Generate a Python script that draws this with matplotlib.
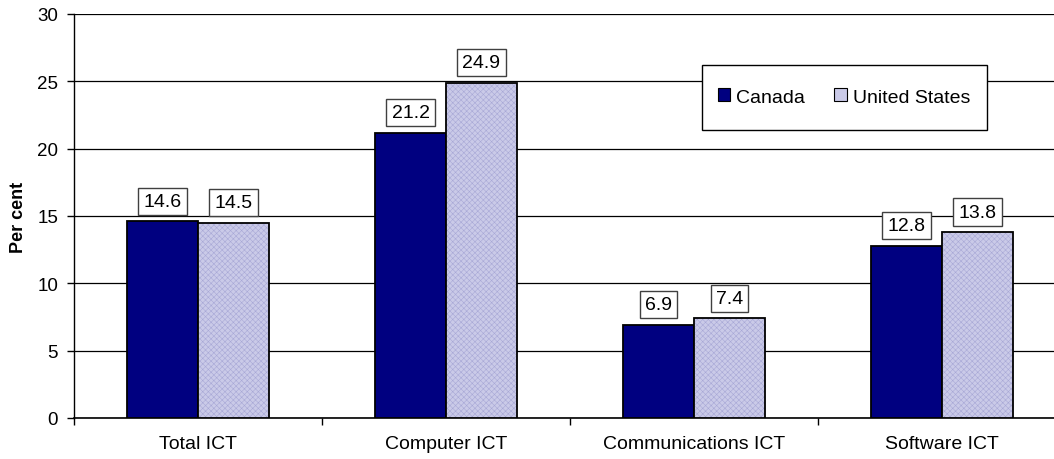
import matplotlib
matplotlib.use('Agg')
import numpy as np
import matplotlib.pyplot as plt
from matplotlib.patches import Patch, Rectangle

categories = ['Total ICT', 'Computer ICT', 'Communications ICT', 'Software ICT']
canada = [14.6, 21.2, 6.9, 12.8]
united_states = [14.5, 24.9, 7.4, 13.8]
y_ticks = [0, 5, 10, 15, 20, 25, 30]

CANADA_COLOR = '#000080'
US_COLOR = '#cacae8'
US_HATCH = '#a8a8d6'

plt.rcParams['font.family'] = ['Liberation Sans', 'DejaVu Sans']
plt.rcParams['hatch.linewidth'] = 0.4

fig = plt.figure(figsize=(10.54, 4.6), dpi=100)
ax = fig.add_axes([74 / 1054, 41 / 460, 992 / 1054, 404 / 460])

x = np.arange(len(categories))
w = 0.286

ax.bar(x - w / 2, canada, w, color=CANADA_COLOR, edgecolor='black',
       linewidth=1.3, zorder=3)
# hatched fill first, then a black outline on top
ax.bar(x + w / 2, united_states, w, color=US_COLOR, hatch='xxxxxx',
       edgecolor=US_HATCH, linewidth=0, zorder=3)
ax.bar(x + w / 2, united_states, w, fill=False, edgecolor='black',
       linewidth=1.3, zorder=4)

box = dict(boxstyle='square,pad=0.26', facecolor='white',
           edgecolor='#404040', linewidth=1)
for xi, v in zip(x - w / 2, canada):
    ax.annotate(f'{v:.1f}', xy=(xi, v), xytext=(0, 14.5),
                textcoords='offset points', ha='center', va='center',
                fontsize=14, bbox=box, zorder=5)
for xi, v in zip(x + w / 2, united_states):
    ax.annotate(f'{v:.1f}', xy=(xi, v), xytext=(0, 14.5),
                textcoords='offset points', ha='center', va='center',
                fontsize=14, bbox=box, zorder=5)

ax.set_xlim(-0.5, len(categories) - 0.5)
ax.set_ylim(0, 30)
ax.set_yticks(y_ticks)
ax.yaxis.grid(True, color='black', linewidth=0.9, zorder=0)
ax.set_axisbelow(True)

ax.set_xticks(x)
ax.set_xticklabels(categories, fontsize=14)
ax.set_xticks(np.arange(len(categories) + 1) - 0.5, minor=True)
ax.tick_params(axis='x', which='major', length=0, pad=12)
ax.tick_params(axis='x', which='minor', length=5, width=1, direction='out')
ax.tick_params(axis='y', labelsize=13.5, length=5, width=1, pad=6.5)

for s in ('top', 'right'):
    ax.spines[s].set_visible(False)
ax.spines['left'].set_linewidth(1)
ax.spines['bottom'].set_linewidth(1.2)

ax.set_ylabel('Per cent', fontsize=13, fontweight='bold', labelpad=7)

# legend frame
fig.patches.append(Rectangle((702 / 1054, 1 - 131 / 460), 285 / 1054, 65 / 460,
                             transform=fig.transFigure, facecolor='white',
                             edgecolor='black', linewidth=1, zorder=6))
handles = [Patch(facecolor=CANADA_COLOR, edgecolor='black', linewidth=0.8),
           Patch(facecolor=US_COLOR, edgecolor='black', linewidth=0.8)]
leg = fig.legend(handles, ['Canada', 'United States'], loc='center',
                 bbox_to_anchor=(844 / 1054, 1 - 98 / 460), ncol=2,
                 frameon=False, fontsize=14, handlelength=0.65,
                 handleheight=0.65, handletextpad=0.3, columnspacing=1.5)
leg.set_zorder(20)

fig.savefig('out.png', dpi=100)
